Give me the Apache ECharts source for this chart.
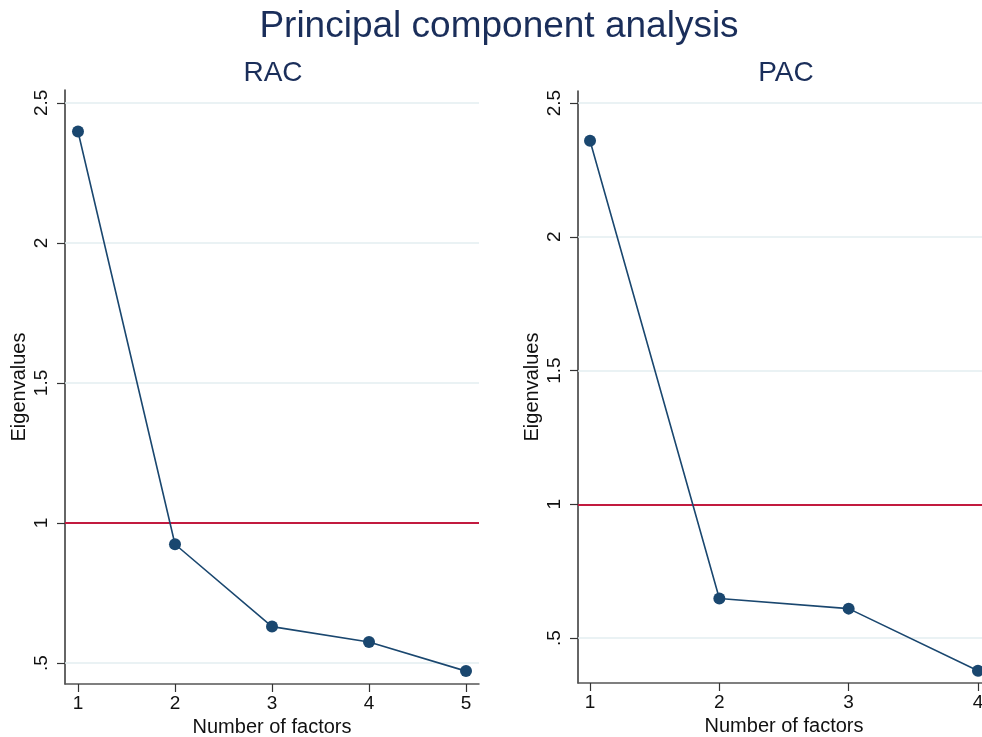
<!DOCTYPE html>
<html>
<head>
<meta charset="utf-8">
<script src="https://cdn.jsdelivr.net/npm/echarts@6/dist/echarts.min.js"></script>
<style>
  html, body { margin: 0; padding: 0; background: #fff; }
  #chart { width: 982px; height: 737px; }
</style>
</head>
<body>
<div id="chart"></div>
<script>
// Scree plots: eigenvalue of each component, RAC and PAC
const racFactors = [1, 2, 3, 4, 5];
const racEigen = [2.398, 0.924, 0.630, 0.575, 0.471];
const pacFactors = [1, 2, 3, 4];
const pacEigen = [2.359, 0.648, 0.610, 0.378];
const yTicks = [0.5, 1, 1.5, 2, 2.5];
const gridValues = [0.5, 1.5, 2, 2.5];
const kaiserCut = 1;

const FONT = '"Liberation Sans", Arial, Helvetica, sans-serif';
const NAVY = '#1a476f';
const TEXT = '#111';

function fmtY(v) {
  const s = String(+v.toFixed(2));
  return s.startsWith('0.') ? s.slice(1) : s;
}

function xAxisFor(idx, ticks, min, max) {
  return {
    type: 'value', gridIndex: idx, min: min, max: max,
    name: 'Number of factors', nameLocation: 'middle', nameGap: 28,
    nameTextStyle: { fontFamily: FONT, fontSize: 20, color: TEXT },
    axisLine: { show: true, onZero: false, lineStyle: { color: '#555', width: 1.5 } },
    axisTick: { show: true, length: 8, customValues: ticks, lineStyle: { color: '#333', width: 1.2 } },
    axisLabel: { customValues: ticks, margin: 10, fontFamily: FONT, fontSize: 19, color: TEXT },
    splitLine: { show: false }
  };
}

function yAxisFor(idx, min, max) {
  return {
    type: 'value', gridIndex: idx, min: min, max: max,
    name: 'Eigenvalues', nameLocation: 'middle', nameGap: 36, nameRotate: 90,
    nameTextStyle: { fontFamily: FONT, fontSize: 20, color: TEXT },
    axisLine: { show: true, onZero: false, lineStyle: { color: '#333', width: 1.5 } },
    axisTick: { show: true, length: 8, customValues: yTicks, lineStyle: { color: '#333', width: 1.2 } },
    axisLabel: {
      customValues: yTicks, rotate: 90, margin: 14,
      fontFamily: FONT, fontSize: 19, color: TEXT,
      formatter: fmtY
    },
    splitLine: { show: false }
  };
}

function seriesFor(idx, xs, ys) {
  return {
    type: 'line', xAxisIndex: idx, yAxisIndex: idx,
    data: xs.map((x, i) => [x, ys[i]]),
    symbol: 'circle', symbolSize: 12, showSymbol: true,
    lineStyle: { color: NAVY, width: 1.6 },
    itemStyle: { color: NAVY },
    z: 5,
    markLine: {
      silent: true, symbol: 'none', label: { show: false }, animation: false,
      data: gridValues.map(v => ({ yAxis: v, lineStyle: { color: '#e3eef1', width: 1.6, type: 'solid' } }))
        .concat([{ yAxis: kaiserCut, lineStyle: { color: '#c21a3f', width: 1.8, type: 'solid' } }])
    }
  };
}

const chart = echarts.init(document.getElementById('chart'), null, { renderer: 'canvas' });
chart.setOption({
  animation: false,
  backgroundColor: '#fff',
  title: [
    { text: 'Principal component analysis', left: 494, top: 3, textAlign: 'center',
      textStyle: { fontFamily: FONT, fontSize: 37, fontWeight: 'normal', color: '#1a2e5a' } },
    { text: 'RAC', left: 268, top: 54, textAlign: 'center',
      textStyle: { fontFamily: FONT, fontSize: 28, fontWeight: 'normal', color: '#1a2e5a' } },
    { text: 'PAC', left: 781, top: 54, textAlign: 'center',
      textStyle: { fontFamily: FONT, fontSize: 28, fontWeight: 'normal', color: '#1a2e5a' } }
  ],
  grid: [
    { left: 65, top: 90, width: 414, height: 594, outerBoundsMode: 'none', containLabel: false },
    { left: 578, top: 91, width: 412, height: 592, outerBoundsMode: 'none', containLabel: false }
  ],
  xAxis: [
    xAxisFor(0, racFactors, 0.866, 5.134),
    xAxisFor(1, pacFactors, 0.907, 4.093)
  ],
  yAxis: [
    yAxisFor(0, 0.425, 2.546),
    yAxisFor(1, 0.332, 2.545)
  ],
  series: [
    seriesFor(0, racFactors, racEigen),
    seriesFor(1, pacFactors, pacEigen)
  ]
});
</script>
</body>
</html>
